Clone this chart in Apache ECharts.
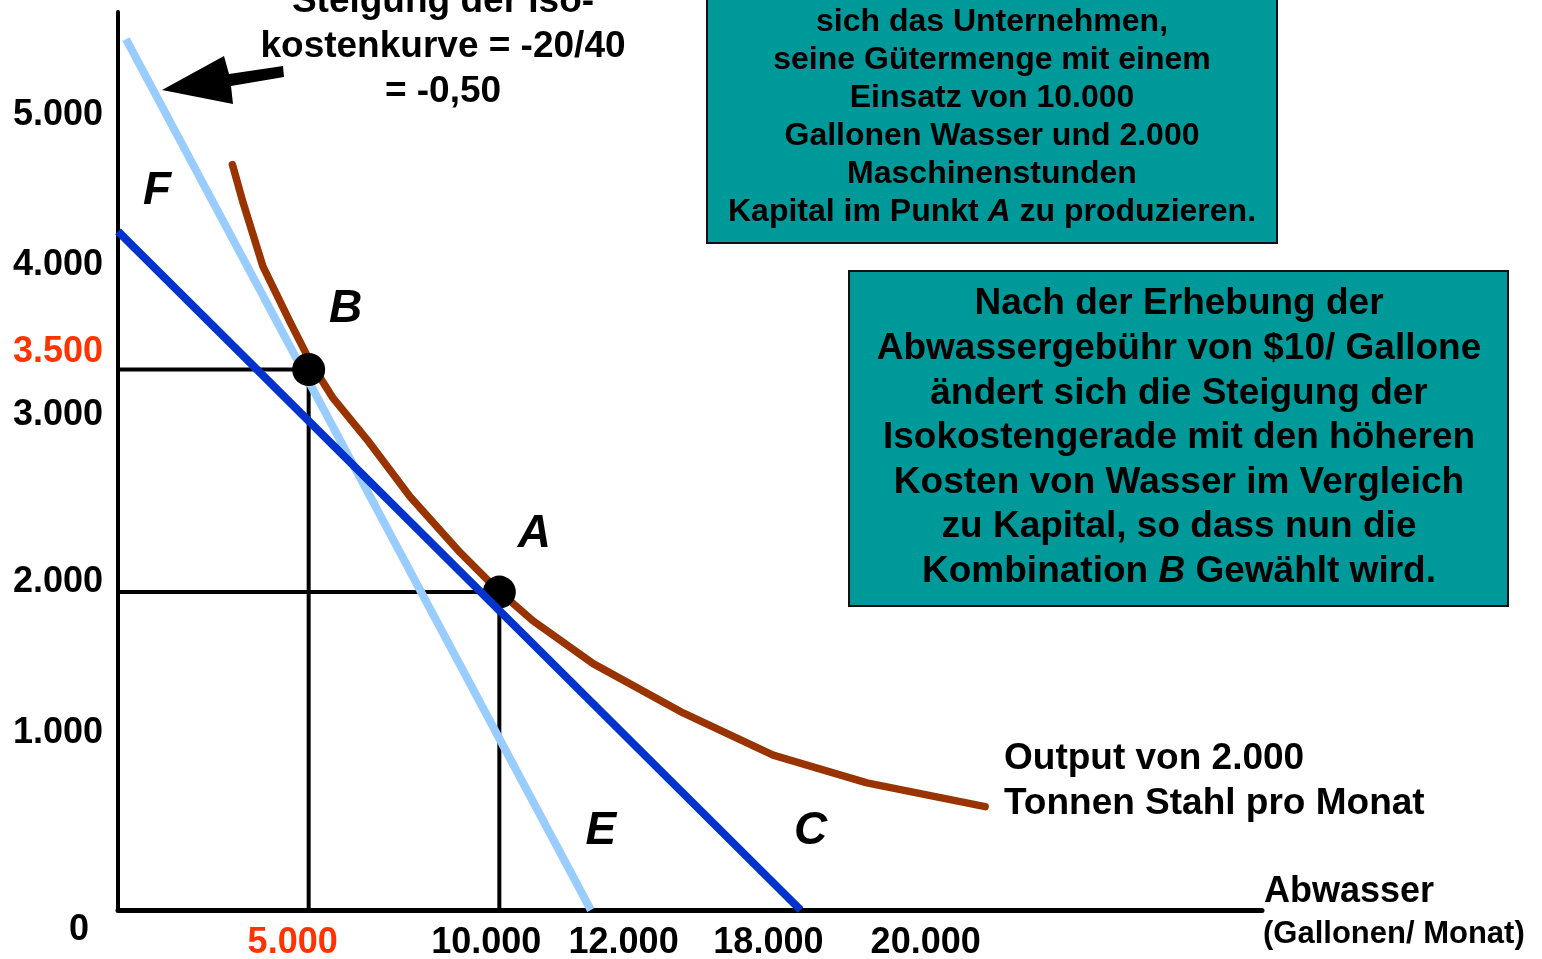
<!DOCTYPE html>
<html>
<head>
<meta charset="utf-8">
<title>Isokostengerade und Isoquante</title>
<script src="https://cdn.jsdelivr.net/npm/echarts@6/dist/echarts.min.js"></script>
<style>
  html, body { margin: 0; padding: 0; background: #fff; }
  #chart { width: 1542px; height: 959px; }
</style>
</head>
<body>
<div id="chart"></div>
<script>
// Werte: x = Abwasser (Gallonen/Monat), y = Kapital (Maschinenstunden)
const isoquant = [
  [3000, 4690], [3280, 4450], [3800, 4050], [4510, 3700], [5040, 3450],
  [5640, 3220], [6530, 2960], [7660, 2600], [8970, 2250], [9970, 2010],
  [10880, 1820], [12460, 1550], [14820, 1240], [17180, 975], [19640, 800], [22740, 650]
];
const isocostOld = [[210, 5480], [12400, 0]];  // vor der Gebuehr, endet bei E
const isocostNew = [[0, 4270], [17900, 0]];    // nach der Gebuehr, F bis C
const pointA = [10000, 2000];
const pointB = [5000, 3400];

const xTicks = [5000, 10000, 12000, 18000, 20000];
const yTicks = [0, 1000, 2000, 3000, 3500, 4000, 5000];
const redTicksX = [5000];
const redTicksY = [3500];

const topNote = ['Steigung der Iso-', 'kostenkurve = -20/40', '= -0,50'];
const noteBefore = [
  'sich das Unternehmen,',
  'seine Gütermenge mit einem',
  'Einsatz von 10.000',
  'Gallonen Wasser und 2.000',
  'Maschinenstunden',
  'Kapital im Punkt {i|A} zu produzieren.'
];
const noteAfter = [
  'Nach der Erhebung der',
  'Abwassergebühr von $10/ Gallone',
  'ändert sich die Steigung der',
  'Isokostengerade mit den höheren',
  'Kosten von Wasser im Vergleich',
  'zu Kapital, so dass nun die',
  'Kombination {i|B} Gewählt wird.'
];
const curveNote = ['Output von 2.000', 'Tonnen Stahl pro Monat'];
const xName = 'Abwasser';
const xUnit = '(Gallonen/ Monat)';

// --- Stil ---
const font = "'Liberation Sans', Arial, Helvetica, sans-serif";
const red = '#ff3300';
const teal = '#009999';

// Verschiebung der Achsenbeschriftungen wie im Original (px)
const xLabelShift = {5000: -16, 10000: -13, 12000: 48, 18000: -36, 20000: 45};
const yLabelShift = {0: [-14, 20], 1000: [0, -18], 2000: [0, -10], 3000: [0, -18], 3500: [0, -2], 4000: [0, -9], 5000: [0, 0]};

const letterAnchors = {F: isocostNew[0], E: isocostOld[1], C: isocostNew[1], B: pointB, A: pointA};
const letterOffset = {F: [39, -40], E: [10, -79], C: [10, -79], B: [37, -60], A: [35, -58]};

const fmt = v => String(v).replace(/\B(?=(\d{3})+(?!\d))/g, '.');

const xRich = {};
xTicks.forEach(v => {
  const d = xLabelShift[v] || 0;
  xRich['x' + v] = {
    fontFamily: font, fontSize: 36, fontWeight: 'bold',
    color: redTicksX.includes(v) ? red : '#000',
    padding: d > 0 ? [0, 0, 0, 2 * d] : [0, -2 * d, 0, 0]
  };
});
const yRich = {};
yTicks.forEach(v => {
  const [dx, dy] = yLabelShift[v] || [0, 0];
  yRich['y' + v] = {
    fontFamily: font, fontSize: 36, fontWeight: 'bold',
    color: redTicksY.includes(v) ? red : '#000',
    padding: [dy > 0 ? 2 * dy : 0, -dx, dy < 0 ? -2 * dy : 0, 0]
  };
});

const textStyle = (size, extra) => Object.assign({
  fontFamily: font, fontSize: size, fontWeight: 'bold', fill: '#000'
}, extra);

const italicRich = size => ({
  i: {fontFamily: font, fontSize: size, fontWeight: 'bold', fontStyle: 'italic', fill: '#000'}
});

const lineSeries = (name, data, color, width, extra) => Object.assign({
  name: name,
  type: 'line',
  data: data,
  symbol: 'none',
  silent: true,
  lineStyle: {color: color, width: width, cap: 'butt', join: 'round'}
}, extra);

const chart = echarts.init(document.getElementById('chart'), null, {renderer: 'canvas'});

const option = {
  animation: false,
  backgroundColor: '#fff',
  grid: {left: 118, right: 280, top: 12, bottom: 49, containLabel: false, outerBoundsMode: 'none'},
  xAxis: {
    type: 'value',
    min: 0,
    max: 30000,
    splitLine: {show: false},
    axisTick: {show: false},
    axisLine: {lineStyle: {color: '#000', width: 5}},
    axisLabel: {
      customValues: xTicks,
      margin: 15,
      formatter: v => '{x' + v + '|' + fmt(v) + '}',
      rich: xRich
    }
  },
  yAxis: {
    type: 'value',
    min: 0,
    max: 5650,
    splitLine: {show: false},
    axisTick: {show: false},
    axisLine: {lineStyle: {color: '#000', width: 4}},
    axisLabel: {
      customValues: yTicks,
      margin: 15,
      formatter: v => '{y' + v + '|' + fmt(v) + '}',
      rich: yRich
    }
  },
  series: [
    lineSeries('dropB', [[0, pointB[1]], pointB, [pointB[0], 0]], '#000', 4, {z: 2}),
    lineSeries('dropA', [[0, pointA[1]], pointA, [pointA[0], 0]], '#000', 4, {z: 2}),
    lineSeries('isocostOld', isocostOld, '#99ccff', 8, {z: 3}),
    lineSeries('isoquant', isoquant, '#993300', 7.5, {
      z: 4,
      lineStyle: {color: '#993300', width: 7.5, cap: 'round', join: 'round'}
    }),
    {
      name: 'points',
      type: 'scatter',
      silent: true,
      z: 5,
      symbolSize: 33,
      itemStyle: {color: '#000', opacity: 1},
      data: [pointB, pointA]
    },
    lineSeries('isocostNew', isocostNew, '#0033cc', 8, {z: 6}),
    {
      name: 'letters',
      type: 'scatter',
      silent: true,
      clip: false,
      z: 7,
      symbolSize: 1,
      itemStyle: {color: '#fff', opacity: 0},
      label: {
        show: true,
        position: 'inside',
        formatter: '{b}',
        fontFamily: font,
        fontSize: 46,
        fontWeight: 'bold',
        fontStyle: 'italic',
        color: '#000',
        opacity: 1
      },
      data: Object.keys(letterAnchors).map(k => ({
        name: k,
        value: letterAnchors[k],
        label: {offset: letterOffset[k]}
      }))
    }
  ],
  graphic: [
    {
      type: 'polygon',
      z: 100,
      shape: {points: [[162, 90], [224, 56], [229, 74], [283, 66], [284, 77], [231, 86], [233, 104]]},
      style: {fill: '#000'}
    },
    {
      type: 'text', x: 443, y: 47, z: 100,
      style: textStyle(37, {text: topNote.join('\n'), align: 'center', verticalAlign: 'middle', lineHeight: 45})
    },
    {
      type: 'rect', z: 100,
      shape: {x: 707, y: -40, width: 570, height: 283},
      style: {fill: teal, stroke: '#111', lineWidth: 2}
    },
    {
      type: 'text', x: 992, y: 117, z: 101,
      style: textStyle(32, {
        text: noteBefore.join('\n'), align: 'center', verticalAlign: 'middle',
        lineHeight: 38, rich: italicRich(32)
      })
    },
    {
      type: 'rect', z: 100,
      shape: {x: 849, y: 271, width: 659, height: 335},
      style: {fill: teal, stroke: '#111', lineWidth: 2}
    },
    {
      type: 'text', x: 1179, y: 438, z: 101,
      style: textStyle(37, {
        text: noteAfter.join('\n'), align: 'center', verticalAlign: 'middle',
        lineHeight: 44.6, rich: italicRich(37)
      })
    },
    {
      type: 'text', x: 1004, y: 781, z: 100,
      style: textStyle(37, {text: curveNote.join('\n'), align: 'left', verticalAlign: 'middle', lineHeight: 45})
    },
    {
      type: 'text', x: 1264, y: 892, z: 100,
      style: textStyle(36, {text: xName, align: 'left', verticalAlign: 'middle'})
    },
    {
      type: 'text', x: 1263, y: 934, z: 100,
      style: textStyle(31, {text: xUnit, align: 'left', verticalAlign: 'middle'})
    }
  ]
};

chart.setOption(option);
window.addEventListener('resize', () => chart.resize());
</script>
</body>
</html>
